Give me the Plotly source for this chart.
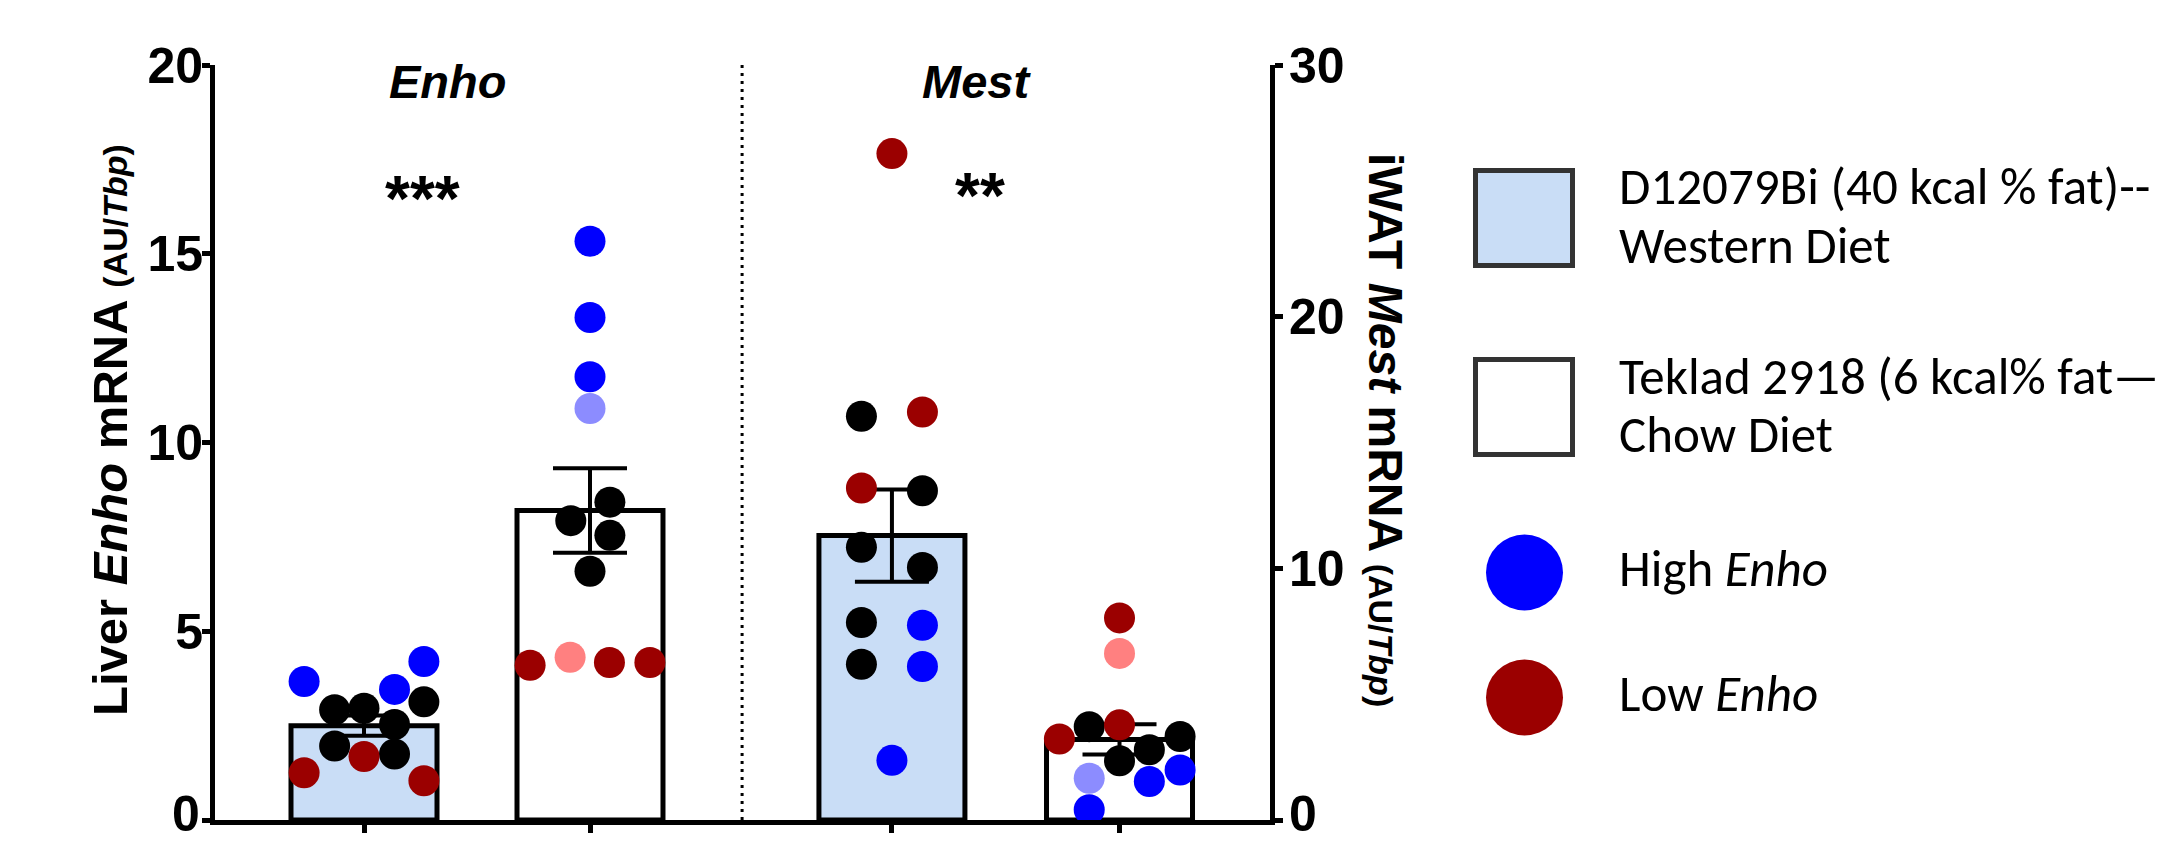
import plotly.graph_objects as go

# ---------------- data ----------------
GENES = ["Enho", "Mest"]
DIET_LINES = [["D12079Bi (40 kcal % fat)--", "Western Diet"],
              ["Teklad 2918 (6 kcal% fat—", "Chow Diet"]]
GROUP_LABELS = ["High <i>Enho</i>", "Low <i>Enho</i>"]
SIG_LABELS = ["***", "**"]

# bar means / SEM (left axis: liver Enho; right axis: iWAT Mest)
enho_means = [2.5, 8.2]
enho_sem = [0.27, 1.12]
mest_means = [11.3, 3.2]
mest_sem = [1.83, 0.6]

# axis ticks
left_ticks = [0, 5, 10, 15, 20]
right_ticks = [0, 10, 20, 30]

# individual points: values, colour group
enho_wd_vals = [3.67, 4.20, 3.46, 2.92, 2.96, 3.13, 2.53, 1.96, 1.75, 1.25, 1.68, 1.04]
enho_wd_grp = ["b", "b", "b", "k", "k", "k", "k", "k", "k", "r", "r", "r"]
enho_ch_vals = [15.33, 13.31, 11.74, 10.90, 8.42, 7.93, 7.54, 6.59, 4.10, 4.31, 4.17, 4.17]
enho_ch_grp = ["b", "b", "b", "lb", "k", "k", "k", "k", "r", "lr", "r", "r"]
mest_wd_vals = [26.48, 16.04, 16.21, 13.19, 13.08, 10.84, 10.03, 7.85, 7.74, 6.19, 6.10, 2.37]
mest_wd_grp = ["r", "k", "r", "r", "k", "k", "k", "k", "b", "k", "b", "b"]
mest_ch_vals = [8.03, 6.62, 3.22, 3.71, 3.78, 3.32, 2.79, 2.35, 1.99, 1.53, 1.66, 0.41]
mest_ch_grp = ["r", "lr", "r", "k", "r", "k", "k", "k", "b", "b", "lb", "b"]

# ---------------- layout / style (not data) ----------------
OFF = 8                                    # default page (body) margin of the html
W, H = 2183 - OFF, 844 - OFF
# plot frame in screen pixels
SL, SR, ST, SB = 215, 1270, 65, 820
L, R, T, B = SL - OFF, SR - OFF, ST - OFF, SB - OFF
X_POS = [1.0, 2.0, 3.336, 4.343]
X_RANGE = [0.3407, 5.0089]
BAR_W = 0.646
DIVIDER = 2.673
# horizontal scatter offsets of the points (column layout)
enho_wd_jit = [-0.265, 0.265, 0.135, -0.13, 0.0, 0.265, 0.135, -0.13, 0.135, -0.265, 0.0, 0.265]
enho_ch_jit = [0.0, 0.0, 0.0, 0.0, 0.088, -0.085, 0.088, 0.0, -0.265, -0.088, 0.086, 0.265]
mest_wd_jit = [0.0, -0.135, 0.135, -0.135, 0.135, -0.135, 0.135, -0.135, 0.135, -0.135, 0.135, 0.0]
mest_ch_jit = [0.0, 0.0, -0.266, -0.134, 0.0, 0.268, 0.132, 0.0, 0.268, 0.132, -0.134, -0.134]

COLORS = {"k": "#000000", "b": "#0000FF", "lb": "#8C8CFF", "r": "#9B0000", "lr": "#FF8080"}
ORDER = ["k", "lb", "lr", "b", "r"]
BAR_FILL = ["#C9DDF6", "#FFFFFF"]
FONT = "Liberation Sans, Arial, sans-serif"
LEG_FONT = "Carlito, Lato, sans-serif"


def px_x(p):          # screen px -> paper
    return (p - SL) / (SR - SL)


def px_y(p):
    return (SB - p) / (SB - ST)


fig = go.Figure()

# bars
fig.add_trace(go.Bar(x=X_POS[:2], y=enho_means, width=BAR_W, yaxis="y",
                     marker=dict(color=BAR_FILL, line=dict(color="black", width=5)),
                     error_y=dict(type="data", array=enho_sem, thickness=4, width=37, color="black"),
                     showlegend=False, hoverinfo="skip"))
fig.add_trace(go.Bar(x=X_POS[2:], y=mest_means, width=BAR_W, yaxis="y2",
                     marker=dict(color=BAR_FILL, line=dict(color="black", width=5)),
                     error_y=dict(type="data", array=mest_sem, thickness=4, width=37, color="black"),
                     showlegend=False, hoverinfo="skip"))


def add_points(xc, vals, grp, jit, axis):
    idx = sorted(range(len(vals)), key=lambda i: ORDER.index(grp[i]))
    fig.add_trace(go.Scatter(
        x=[xc + jit[i] for i in idx], y=[vals[i] for i in idx], yaxis=axis,
        mode="markers",
        marker=dict(size=31, color=[COLORS[grp[i]] for i in idx], line=dict(width=0)),
        showlegend=False, hoverinfo="skip"))


add_points(X_POS[0], enho_wd_vals, enho_wd_grp, enho_wd_jit, "y")
add_points(X_POS[1], enho_ch_vals, enho_ch_grp, enho_ch_jit, "y")
add_points(X_POS[2], mest_wd_vals, mest_wd_grp, mest_wd_jit, "y2")
add_points(X_POS[3], mest_ch_vals, mest_ch_grp, mest_ch_jit, "y2")

tickfont = dict(family=FONT, size=50, color="black", weight="bold")
# the bottom "0" labels are drawn as annotations so they stay inside the page
left_text = ["" if v == 0 else str(v) for v in left_ticks]
right_text = ["" if v == 0 else str(v) for v in right_ticks]

fig.update_layout(
    width=W, height=H,
    margin=dict(l=L, r=W - R, t=T, b=H - B, pad=0, autoexpand=False),
    plot_bgcolor="white", paper_bgcolor="white",
    barmode="overlay", showlegend=False,
    xaxis=dict(range=X_RANGE, showgrid=False, zeroline=False, showline=True, automargin=False,
               linewidth=5, linecolor="black", ticks="outside", ticklen=8, tickwidth=5,
               tickcolor="black", tickvals=X_POS, showticklabels=False, fixedrange=True),
    yaxis=dict(range=[0, 20], tickvals=left_ticks, ticktext=left_text, showgrid=False,
               zeroline=False, showline=True, linewidth=5, linecolor="black", ticks="outside",
               ticklen=8, tickwidth=5, tickcolor="black", tickfont=tickfont,
               ticklabelstandoff=-11, automargin=False),
    yaxis2=dict(range=[0, 30], tickvals=right_ticks, ticktext=right_text, overlaying="y",
                side="right", anchor="x", showgrid=False, zeroline=False, showline=True,
                linewidth=5, linecolor="black", ticks="outside", ticklen=8, tickwidth=5,
                tickcolor="black", tickfont=tickfont, ticklabelstandoff=-4, automargin=False),
)

shapes = [dict(type="line", xref="x", yref="paper", x0=DIVIDER, x1=DIVIDER, y0=0, y1=1,
               line=dict(color="black", width=3, dash="3px,5px"), layer="below")]

annotations = []


def add_text(text, cx, cy, size, family=FONT, xanchor="center", angle=0, yanchor="middle"):
    annotations.append(dict(text=text, x=px_x(cx), y=px_y(cy), xref="paper", yref="paper",
                            showarrow=False, xanchor=xanchor, yanchor=yanchor, align="left",
                            textangle=angle, borderpad=0,
                            font=dict(family=family, size=size, color="black")))


# bottom zero labels of both axes
add_text("<b>0</b>", 201, 843, 50, xanchor="right", yanchor="bottom")
add_text("<b>0</b>", 1288, 843, 50, xanchor="left", yanchor="bottom")
# gene titles
for txt, cx in zip(GENES, [447, 976]):
    add_text(f"<b><i>{txt}</i></b>", cx, 82, 47)
# significance
for txt, cx, cy in zip(SIG_LABELS, [422, 980], [199, 196]):
    add_text(f"<b>{txt}</b>", cx, cy, 64)
# axis titles
small = '<span style="font-size:34px">(AU/<i>Tbp</i>)</span>'
add_text(f"<b>Liver <i>Enho</i> mRNA {small}</b>", 110, 430, 49, angle=-90)
add_text(f"<b>iWAT <i>Mest</i> mRNA {small}</b>", 1386, 430, 48, angle=90)

# legend (drawn manually)
box_y = [(168, 268), (357, 457)]
line_y = [(186, 245), (376, 435)]
for (y0, y1), fill, lines, ly in zip(box_y, BAR_FILL, DIET_LINES, line_y):
    shapes.append(dict(type="rect", xref="paper", yref="paper", x0=px_x(1475.5), x1=px_x(1572.5),
                       y0=px_y(y1 - 2.5), y1=px_y(y0 + 2.5), fillcolor=fill,
                       line=dict(color="#333333", width=5)))
    for txt, yy in zip(lines, ly):
        add_text(txt, 1618, yy, 51, family=LEG_FONT, xanchor="left")
circ_y = [572.5, 697.5]
for cy, col, lab in zip(circ_y, [COLORS["b"], COLORS["r"]], GROUP_LABELS):
    shapes.append(dict(type="circle", xref="paper", yref="paper", x0=px_x(1486), x1=px_x(1563),
                       y0=px_y(cy + 38), y1=px_y(cy - 38), fillcolor=col, line=dict(width=0)))
    add_text(lab, 1618, cy - 4, 51, family=LEG_FONT, xanchor="left")

fig.update_layout(shapes=shapes, annotations=annotations)
fig.write_html("out.html")
